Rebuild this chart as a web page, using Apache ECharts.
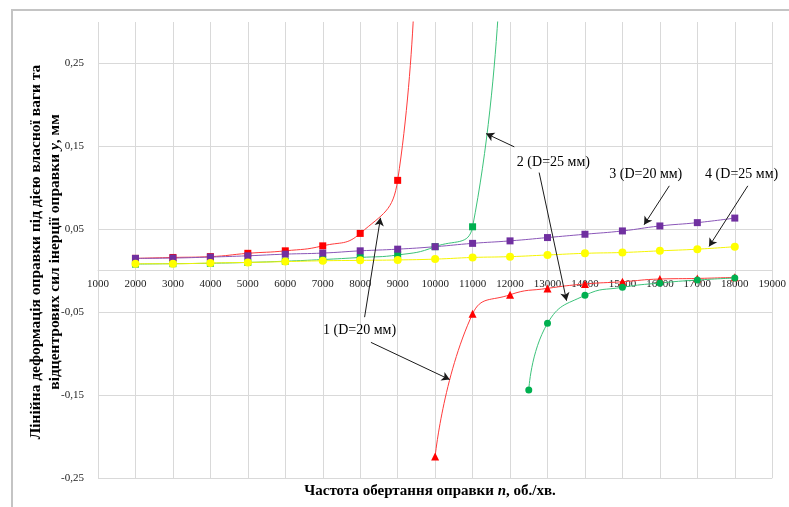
<!DOCTYPE html>
<html>
<head>
<meta charset="utf-8">
<script src="https://cdn.jsdelivr.net/npm/echarts@6/dist/echarts.min.js"></script>
<style>
  html, body { margin: 0; padding: 0; background: #fff; }
  #main { width: 789px; height: 507px; }
</style>
</head>
<body>
<div id="main"></div>
<script>
// дані
var n1Pos = [2000, 3000, 4000, 5000, 6000, 7000, 8000, 9000, 9500];
var y1Pos = [0.0149, 0.016, 0.017, 0.021, 0.024, 0.030, 0.045, 0.109, 0.42];
var n1Neg = [10000, 11000, 12000, 13000, 14000, 15000, 16000, 17000, 18000];
var y1Neg = [-0.224, -0.052, -0.029, -0.0213, -0.016, -0.0133, -0.010, -0.0093, -0.008];

var n2Pos = [2000, 3000, 4000, 5000, 6000, 7000, 8000, 9000, 10000, 11000, 11800];
var y2Pos = [0.008, 0.0085, 0.009, 0.010, 0.0115, 0.0135, 0.016, 0.019, 0.029, 0.053, 0.45];
var n2Neg = [12500, 13000, 14000, 15000, 16000, 17000, 18000];
var y2Neg = [-0.144, -0.0635, -0.0297, -0.020, -0.0148, -0.0112, -0.0088];

var n34 = [2000, 3000, 4000, 5000, 6000, 7000, 8000, 9000, 10000, 11000, 12000, 13000, 14000, 15000, 16000, 17000, 18000];
var y3 = [0.0149, 0.0153, 0.0165, 0.018, 0.020, 0.0213, 0.024, 0.026, 0.029, 0.033, 0.036, 0.040, 0.044, 0.048, 0.054, 0.058, 0.0635];
var y4 = [0.0084, 0.0084, 0.0093, 0.010, 0.011, 0.012, 0.0125, 0.013, 0.014, 0.016, 0.017, 0.019, 0.021, 0.022, 0.024, 0.026, 0.029];

// підписи кривих та стрілки (координати в одиницях осей)
var noteText = ['1 (D=20 мм)', '2 (D=25 мм)', '3 (D=20 мм)', '4 (D=25 мм)'];
var notePos = [[7984, -0.0714], [13157, 0.1305], [15623, 0.1165], [18183, 0.1165]];
var arrows = [
    [[8117, -0.056], [8541, 0.0638]],
    [[8286, -0.0864], [10390, -0.1313]],
    [[12114, 0.1494], [11361, 0.1654]],
    [[12777, 0.1184], [13509, -0.0361]],
    [[16252, 0.1024], [15578, 0.0554]],
    [[18348, 0.1024], [17313, 0.0293]]
];

var yMin = -0.25, yMax = 0.3;

function pairs(xs, ys) {
    var out = [];
    for (var i = 0; i < xs.length; i++) out.push([xs[i], ys[i]]);
    return out;
}

var myChart = echarts.init(document.getElementById('main'));
var serif = '"Liberation Serif", "Times New Roman", serif';

// сітка
var gTop = 22, gBottom = 29, H = 507;
var plotH = H - gTop - gBottom;
// зсув осі X до рівня нуля
var zeroOffset = -plotH * (0 - yMin) / (yMax - yMin);

function lineSeries(name, d, color, lineColor, symbol, size) {
    return {
        name: name,
        type: 'line',
        smooth: true,
        data: d,
        symbol: symbol,
        symbolSize: size,
        itemStyle: { color: color },
        lineStyle: { color: lineColor, width: 1 },
        emphasis: { disabled: true }
    };
}

var noteData = [];
for (var i = 0; i < noteText.length; i++) {
    noteData.push({ coord: notePos[i], value: noteText[i] });
}
var arrowData = [];
for (var j = 0; j < arrows.length; j++) {
    arrowData.push([{ coord: arrows[j][0] }, { coord: arrows[j][1] }]);
}

option = {
    animation: false,
    grid: { left: 98, right: 13, top: gTop, bottom: gBottom },
    graphic: [
        {
            type: 'rect',
            shape: { x: 12, y: 10, width: 820, height: 560 },
            style: { fill: 'none', stroke: '#c4c4c4', lineWidth: 2 },
            silent: true
        },
        {
            type: 'text',
            x: 45.5,
            y: 252,
            rotation: Math.PI / 2,
            style: {
                text: '{b|Лінійна деформація оправки під дією власної ваги та}\n{b|відцентрових сил інерції оправки }{i|y}{b|, мм}',
                align: 'center',
                verticalAlign: 'middle',
                fill: '#000',
                rich: {
                    b: { fontFamily: serif, fontWeight: 'bold', fontSize: 15.5, lineHeight: 19 },
                    i: { fontFamily: serif, fontWeight: 'bold', fontStyle: 'italic', fontSize: 15.5, lineHeight: 19 }
                }
            }
        },
        {
            type: 'text',
            x: 430,
            y: 491,
            style: {
                text: '{b|Частота обертання оправки }{i|n}{b|, об./хв.}',
                align: 'center',
                verticalAlign: 'middle',
                fill: '#000',
                rich: {
                    b: { fontFamily: serif, fontWeight: 'bold', fontSize: 15 },
                    i: { fontFamily: serif, fontWeight: 'bold', fontStyle: 'italic', fontSize: 15 }
                }
            }
        }
    ],
    xAxis: [
        {
            type: 'value',
            min: 1000,
            max: 19000,
            interval: 1000,
            axisLine: { show: false },
            axisTick: { show: false },
            axisLabel: { show: false },
            splitLine: { show: true, lineStyle: { color: '#d9d9d9', width: 1 } }
        },
        {
            type: 'value',
            position: 'bottom',
            offset: zeroOffset,
            min: 1000,
            max: 19000,
            interval: 1000,
            axisLine: { show: true, onZero: false, lineStyle: { color: '#d9d9d9', width: 1 } },
            axisTick: { show: false },
            axisLabel: {
                fontFamily: serif, fontSize: 11, color: '#222', margin: 8,
                formatter: function (v) { return String(v); }
            },
            splitLine: { show: false }
        }
    ],
    yAxis: {
        type: 'value',
        min: yMin,
        max: yMax,
        interval: 0.05,
        axisLine: { show: false },
        axisTick: { show: false },
        axisLabel: {
            fontFamily: serif,
            fontSize: 11,
            color: '#222',
            margin: 14,
            formatter: function (v) {
                var k = Math.round(v * 100);
                if (Math.abs(k) % 10 !== 5) return '';
                return (k / 100).toFixed(2).replace('.', ',');
            }
        },
        splitLine: { show: true, showMaxLine: false, lineStyle: { color: ['#d9d9d9', 'rgba(0,0,0,0)'], width: 1 } }
    },
    series: [
        lineSeries('1+', pairs(n1Pos, y1Pos), '#ff0000', '#ff3b3b', 'rect', 7),
        lineSeries('1-', pairs(n1Neg, y1Neg), '#ff0000', '#ff3b3b', 'triangle', 8),
        lineSeries('2+', pairs(n2Pos, y2Pos), '#00b050', '#3cc27a', 'rect', 7),
        lineSeries('2-', pairs(n2Neg, y2Neg), '#00b050', '#3cc27a', 'circle', 7),
        lineSeries('3', pairs(n34, y3), '#7030a0', '#8a56b8', 'rect', 7),
        lineSeries('4', pairs(n34, y4), '#ffff00', '#f5f500', 'circle', 8),
        {
            name: 'notes',
            type: 'line',
            data: [],
            silent: true,
            markLine: {
                silent: true,
                symbol: ['none', 'arrow'],
                symbolSize: [7, 8],
                lineStyle: { color: '#1a1a1a', width: 1, type: 'solid' },
                label: { show: false },
                emphasis: { disabled: true },
                data: arrowData
            },
            markPoint: {
                silent: true,
                symbol: 'rect',
                symbolSize: 1,
                itemStyle: { color: 'rgba(0,0,0,0)' },
                label: {
                    show: true,
                    position: 'inside',
                    formatter: '{c}',
                    fontFamily: serif,
                    fontSize: 14,
                    color: '#000'
                },
                data: noteData
            }
        }
    ]
};

myChart.setOption(option);
window.onresize = myChart.resize;
</script>
</body>
</html>
